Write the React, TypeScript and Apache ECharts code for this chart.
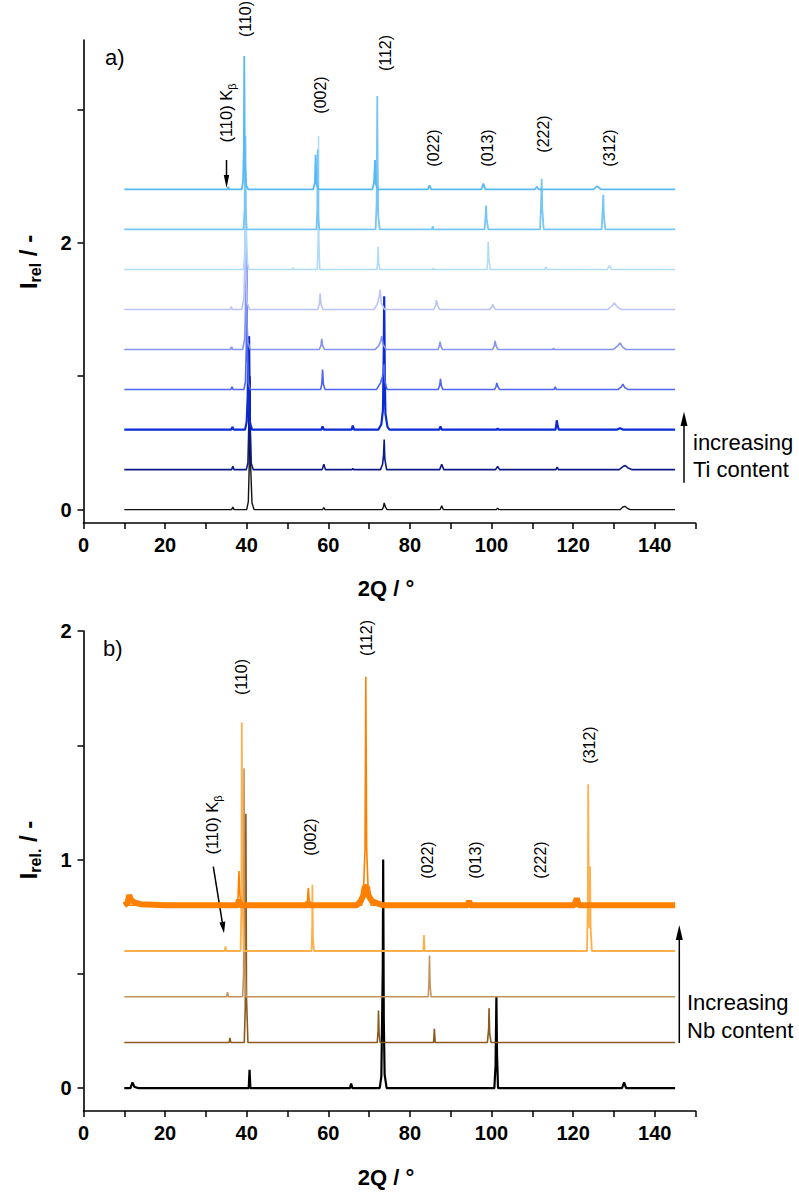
import React, { useEffect, useRef } from "react";
import * as echarts from "echarts";

// ---------- Panel a) : offsets and colours ----------
const offsetsA = [0, 0.3, 0.6, 0.9, 1.2, 1.5, 1.8, 2.1, 2.4];
const colorsA = ["#111111", "#0d1a8a", "#0a2bd6", "#4f66f5", "#8593f2", "#bcc3f7", "#b0dcf9", "#76c6f7", "#58b9f5"];
const widthsA = [1.4, 1.6, 2.2, 1.6, 1.6, 1.6, 1.6, 1.8, 1.8];

// [2theta, I] (before offset)
const a1: number[][] = [[10,0],[36.3,0],[36.6,0.02],[36.9,0],[40.0,0],[40.4,0.06],[40.6,0.3],[40.8,1.0],[41.0,0.3],[41.3,0.05],[41.8,0],[58.6,0],[58.9,0.015],[59.2,0],[73.2,0],[73.5,0.02],[73.7,0.05],[74.0,0.02],[74.4,0],[87.4,0],[87.8,0.03],[88.2,0],[101.2,0],[101.5,0.012],[101.8,0],[131.5,0],[132.2,0.02],[132.7,0.025],[133.3,0.01],[134,0],[145,0]];
const a2: number[][] = [[10,0],[36.3,0],[36.6,0.025],[36.9,0],[39.9,0],[40.3,0.05],[40.5,0.3],[40.65,1.0],[40.85,0.3],[41.1,0.05],[41.6,0],[58.5,0],[58.9,0.04],[59.3,0],[65.8,0],[66.0,0.01],[66.2,0],[72.8,0],[73.3,0.04],[73.55,0.11],[73.7,0.225],[73.85,0.08],[74.3,0],[87.3,0],[87.8,0.04],[88.3,0],[101.0,0],[101.5,0.025],[102.0,0],[115.8,0],[116.1,0.02],[116.4,0],[131.3,0],[132.3,0.025],[132.8,0.03],[133.6,0.01],[134.5,0],[145,0]];
const a3: number[][] = [[10,0],[36.2,0],[36.5,0.02],[36.8,0],[39.6,0],[40.0,0.06],[40.25,0.25],[40.4,0.7],[40.55,0.25],[40.8,0.05],[41.3,0],[58.3,0],[58.6,0.025],[58.9,0],[65.7,0],[66.0,0.03],[66.3,0],[72.3,0],[73.0,0.04],[73.4,0.15],[73.6,0.6],[73.7,1.0],[73.85,0.4],[74.0,0.12],[74.5,0.02],[75,0],[87.2,0],[87.5,0.025],[87.8,0],[101.3,0],[101.5,0.01],[101.7,0],[115.7,0],[115.9,0.04],[116.0,0.07],[116.2,0.03],[116.5,0],[130.8,0],[131.5,0.01],[132.2,0],[145,0]];
const a4: number[][] = [[10,0],[36.1,0],[36.4,0.02],[36.7,0],[39.3,0],[39.7,0.06],[39.9,0.3],[40.0,1.0],[40.15,0.3],[40.4,0.05],[40.9,0],[58.1,0],[58.4,0.04],[58.6,0.15],[58.8,0.04],[59.2,0],[71.8,0],[72.8,0.05],[73.3,0.1],[73.7,0.19],[73.9,0.06],[74.4,0],[86.9,0],[87.3,0.03],[87.5,0.08],[87.7,0.03],[88.1,0],[100.7,0],[101.1,0.02],[101.3,0.05],[101.6,0.02],[102.0,0],[115.3,0],[115.6,0.02],[115.9,0],[131.0,0],[131.8,0.02],[132.2,0.04],[132.7,0.015],[133.5,0],[145,0]];
const a5: number[][] = [[10,0],[36.0,0],[36.3,0.02],[36.6,0],[39.0,0],[39.5,0.08],[39.7,0.3],[39.8,1.0],[39.95,0.3],[40.3,0.05],[40.9,0],[57.8,0],[58.2,0.03],[58.4,0.08],[58.6,0.03],[59.1,0],[71.5,0],[72.4,0.03],[72.9,0.07],[73.1,0.1],[73.4,0.04],[74.2,0],[86.9,0],[87.2,0.025],[87.4,0.06],[87.6,0.025],[88.0,0],[100.3,0],[100.7,0.03],[100.9,0.065],[101.1,0.03],[101.6,0],[115.0,0],[115.2,0.01],[115.4,0],[129.8,0],[131.0,0.03],[131.5,0.05],[132.1,0.02],[133.0,0],[145,0]];
const a6: number[][] = [[10,0],[35.9,0],[36.2,0.02],[36.5,0],[38.8,0],[39.3,0.08],[39.5,0.3],[39.6,1.0],[39.75,0.3],[40.1,0.05],[40.7,0],[57.4,0],[57.8,0.04],[58.0,0.12],[58.2,0.04],[58.7,0],[71.2,0],[72.0,0.04],[72.5,0.1],[72.7,0.15],[73.0,0.05],[73.8,0],[85.8,0],[86.3,0.03],[86.5,0.07],[86.8,0.03],[87.3,0],[99.6,0],[100.1,0.02],[100.3,0.04],[100.6,0.015],[101.0,0],[128.5,0],[129.6,0.03],[130.1,0.05],[130.8,0.02],[131.8,0],[145,0]];
const a7: number[][] = [[10,0],[39.2,0],[39.5,0.1],[39.65,0.4],[39.75,1.0],[39.9,0.3],[40.2,0.05],[40.6,0],[51.2,0],[51.4,0.015],[51.6,0],[57.3,0],[57.5,0.2],[57.6,1.0],[57.7,0.2],[57.9,0],[71.9,0],[72.1,0.05],[72.2,0.17],[72.35,0.05],[72.6,0],[85.5,0],[85.7,0.01],[85.9,0],[98.9,0],[99.1,0.08],[99.2,0.21],[99.35,0.08],[99.7,0],[113.0,0],[113.3,0.02],[113.6,0],[128.4,0],[128.9,0.03],[129.4,0],[145,0]];
const a8: number[][] = [[10,0],[39.2,0],[39.5,0.15],[39.6,0.7],[39.75,0.15],[40.0,0],[57.1,0],[57.3,0.15],[57.4,0.6],[57.5,0.1],[57.8,0],[71.6,0],[71.85,0.2],[72.0,1.0],[72.1,0.5],[72.25,0.1],[72.6,0],[85.4,0],[85.6,0.025],[85.8,0],[98.3,0],[98.55,0.1],[98.65,0.18],[98.8,0.08],[99.2,0],[111.9,0],[112.15,0.2],[112.3,0.38],[112.45,0.15],[112.8,0],[127.0,0],[127.25,0.15],[127.4,0.26],[127.55,0.1],[127.9,0],[145,0]];
const a9: number[][] = [[10,0],[35.3,0],[35.5,0.02],[35.7,0],[38.8,0],[39.1,0.06],[39.3,0.3],[39.4,1.0],[39.55,0.2],[39.9,0.03],[40.4,0],[56.3,0],[56.7,0.05],[56.9,0.26],[57.1,0.04],[57.6,0],[70.8,0],[71.2,0.05],[71.45,0.22],[71.65,0.04],[72.2,0],[84.4,0],[84.8,0.03],[85.2,0],[97.5,0],[98.0,0.045],[98.5,0],[110.6,0],[111.1,0.02],[111.6,0],[125.0,0],[125.9,0.025],[126.8,0],[145,0]];
const tracesA = [a1, a2, a3, a4, a5, a6, a7, a8, a9];

// ---------- Panel b) ----------
const offsetsB = [0, 0.2, 0.4, 0.6, 0.8, 0.8];
const colorsB = ["#000000", "#8b5a1e", "#c4925a", "#ffb04a", "#ff8000", "#ff8000"];
const widthsB = [2.2, 1.6, 1.6, 1.8, 6, 1.6];

const b1: number[][] = [[10,0],[11.5,0],[12.0,0.025],[12.5,0.005],[13.5,0],[40.5,0],[40.7,0.08],[40.9,0],[65.3,0],[65.6,0.02],[65.9,0],[72.6,0],[73.0,0.05],[73.35,0.52],[73.45,1.0],[73.6,0.3],[73.8,0.06],[74.3,0],[100.7,0],[101.0,0.1],[101.2,0.4],[101.35,0.15],[101.6,0],[132.0,0],[132.5,0.025],[133.0,0],[145,0]];
const b2: number[][] = [[10,0],[35.7,0],[35.9,0.02],[36.1,0],[39.4,0],[39.65,0.15],[39.8,1.0],[39.95,0.2],[40.3,0],[72.0,0],[72.2,0.05],[72.3,0.14],[72.45,0.04],[72.7,0],[85.8,0],[86.0,0.06],[86.2,0],[99.0,0],[99.3,0.06],[99.4,0.15],[99.55,0.04],[99.9,0],[145,0]];
const b3: number[][] = [[10,0],[35.1,0],[35.3,0.02],[35.5,0],[39.0,0],[39.25,0.1],[39.35,1.0],[39.5,0.2],[39.8,0],[84.5,0],[84.7,0.08],[84.8,0.18],[84.95,0.05],[85.2,0],[145,0]];
const b4: number[][] = [[10,0],[34.6,0],[34.8,0.02],[35.0,0],[38.5,0],[38.7,0.2],[38.8,1.0],[38.95,0.25],[39.3,0],[55.9,0],[56.05,0.1],[56.1,0.29],[56.25,0.05],[56.5,0],[83.3,0],[83.45,0.07],[83.6,0],[123.4,0],[123.6,0.2],[123.7,0.73],[123.85,0.2],[124.0,0.1],[124.15,0.37],[124.3,0.1],[124.6,0],[145,0]];
// orange: noisy background band (thick) and its sharp peaks (thin)
const b5band: number[][] = [[10,0],[10.8,0.01],[11.2,0.045],[11.6,0.025],[12.5,0.012],[14,0.005],[20,0],[37.8,0],[38.1,0.025],[38.4,0],[54.9,0],[55.1,0.015],[55.3,0],[67.0,0],[68.0,0.02],[68.6,0.045],[68.9,0.08],[69.5,0.08],[69.8,0.045],[70.6,0.02],[72,0.008],[73.5,0],[94.2,0],[94.5,0.02],[94.8,0],[120.3,0],[120.9,0.03],[121.4,0],[145,0]];
const b5peaks: number[][] = [[10,0],[37.6,0],[37.9,0.04],[38.1,0.15],[38.3,0.05],[38.6,0],[54.8,0],[55.1,0.075],[55.4,0],[68.2,0],[68.6,0.05],[69.0,0.25],[69.2,1.0],[69.4,0.25],[69.8,0.05],[70.5,0],[145,0]];
const tracesB = [b1, b2, b3, b4, b5band, b5peaks];

// ---------- Axis ticks ----------
const yTicksA = [0, 1, 2, 3];
const yLabelsA = [0, 2];
const yTicksB = [0, 0.5, 1, 1.5, 2];
const yLabelsB = [0, 1, 2];

// ---------- Annotation texts ----------
const peakLabelsA = [
  { t: "(110)", x: 245, y: 19 },
  { t: "(002)", x: 320, y: 95 },
  { t: "(112)", x: 385, y: 53 },
  { t: "(022)", x: 433, y: 148 },
  { t: "(013)", x: 487, y: 148 },
  { t: "(222)", x: 543, y: 134 },
  { t: "(312)", x: 609, y: 148 },
];
const peakLabelsB = [
  { t: "(110)", x: 241, y: 677 },
  { t: "(112)", x: 366, y: 638 },
  { t: "(002)", x: 310, y: 837 },
  { t: "(022)", x: 427, y: 860 },
  { t: "(013)", x: 475, y: 860 },
  { t: "(222)", x: 540, y: 860 },
  { t: "(312)", x: 589, y: 745 },
];

const SANS = "'Liberation Sans', Arial, Helvetica, sans-serif";
const BOLD = "'Liberation Sans', Arial, Helvetica, sans-serif";

export default function App() {
  const ref = useRef<HTMLDivElement>(null);
  useEffect(() => {
    if (!ref.current) return;
    const chart = echarts.init(ref.current, undefined, { renderer: "svg" });

    const xAxisCommon = (gi: number) => ({
      type: "value",
      gridIndex: gi,
      min: 0,
      max: 150,
      interval: 10,
      axisLine: { show: true, onZero: false, lineStyle: { color: "#000", width: 1.6 } },
      axisTick: { show: true, length: 6, lineStyle: { color: "#000", width: 1.5 } },
      axisLabel: {
        color: "#000",
        fontSize: 20,
        fontWeight: "bold",
        fontFamily: BOLD,
        margin: 12,
        formatter: (v: number) => (v % 20 === 0 && v <= 140 ? String(v) : ""),
      },
      splitLine: { show: false },
    });
    const yAxisCommon = (gi: number, min: number, max: number, ticks: number[], labels: number[]) => ({
      type: "value",
      gridIndex: gi,
      min,
      max,
      axisLine: { show: true, onZero: false, lineStyle: { color: "#000", width: 1.6 } },
      axisTick: { show: true, length: 6, customValues: ticks, lineStyle: { color: "#000", width: 1.5 } },
      axisLabel: { color: "#000", fontSize: 20, fontWeight: "bold", fontFamily: BOLD, margin: 12, customValues: labels },
      splitLine: { show: false },
    });

    const series: any[] = [];
    tracesA.forEach((tr, i) => {
      series.push({
        type: "line",
        xAxisIndex: 0,
        yAxisIndex: 0,
        showSymbol: false,
        silent: true,
        lineStyle: { color: colorsA[i], width: widthsA[i] },
        data: tr.map(([x, y]) => [x, y + offsetsA[i]]),
      });
    });
    tracesB.forEach((tr, i) => {
      series.push({
        type: "line",
        xAxisIndex: 1,
        yAxisIndex: 1,
        showSymbol: false,
        silent: true,
        lineStyle: { color: colorsB[i], width: widthsB[i] },
        data: tr.map(([x, y]) => [x, y + offsetsB[i]]),
      });
    });

    const rotText = (t: string, x: number, y: number) => ({
      type: "text",
      x,
      y,
      rotation: Math.PI / 2,
      style: { text: t, fontSize: 16, fontFamily: SANS, fill: "#000", align: "center", verticalAlign: "middle" },
    });
    const kbText = (x: number, y: number) => ({
      type: "text",
      x,
      y,
      rotation: Math.PI / 2,
      style: {
        text: "{a|(110) K}{s|β}",
        align: "center",
        verticalAlign: "middle",
        rich: {
          a: { fontSize: 16.5, fontFamily: SANS, fill: "#000", lineHeight: 22, verticalAlign: "middle" },
          s: { fontSize: 11, fontFamily: SANS, fill: "#000", lineHeight: 22, verticalAlign: "bottom" },
        },
      },
    });
    const plain = (t: string, x: number, y: number, size: number, align = "left") => ({
      type: "text",
      x,
      y,
      style: { text: t, fontSize: size, fontFamily: SANS, fill: "#000", align, verticalAlign: "middle" },
    });
    const boldTitle = (t: string, x: number, y: number) => ({
      type: "text",
      x,
      y,
      style: { text: t, fontSize: 22, fontWeight: "bold", fontFamily: BOLD, fill: "#000", align: "center", verticalAlign: "middle" },
    });
    const yTitle = (sub: string, x: number, y: number) => ({
      type: "text",
      x,
      y,
      rotation: Math.PI / 2,
      style: {
        text: "{a|I}{s|" + sub + "}{a| / -}",
        align: "center",
        verticalAlign: "middle",
        rich: {
          a: { fontSize: 24, fontWeight: "bold", fontFamily: BOLD, fill: "#000", lineHeight: 30, verticalAlign: "middle" },
          s: { fontSize: 16, fontWeight: "bold", fontFamily: BOLD, fill: "#000", lineHeight: 26, verticalAlign: "bottom" },
        },
      },
    });
    const line = (x1: number, y1: number, x2: number, y2: number) => ({
      type: "line",
      shape: { x1, y1, x2, y2 },
      style: { stroke: "#000", lineWidth: 1.5 },
    });
    const tri = (pts: number[][]) => ({ type: "polygon", shape: { points: pts }, style: { fill: "#000" } });

    const graphics: any[] = [
      plain("a)", 105, 57, 22),
      plain("b)", 103, 648, 22),
      ...peakLabelsA.map((p) => rotText(p.t, p.x, p.y)),
      ...peakLabelsB.map((p) => rotText(p.t, p.x, p.y)),
      kbText(226, 113),
      kbText(212, 825),
      // Kβ arrows
      line(226.5, 160, 226.5, 178),
      tri([[223.8, 175], [229.2, 175], [226.5, 188]]),
      line(213.3, 866.7, 222.3, 922.4),
      tri([[224, 933.3], [225.3, 921.6], [219.4, 922.6]]),
      // increasing arrows
      line(684, 482.7, 684, 424),
      tri([[680.5, 426], [687.5, 426], [684, 411.7]]),
      line(679.3, 1043, 679.3, 938),
      tri([[675.8, 940], [682.8, 940], [679.3, 925]]),
      plain("increasing", 693, 442, 22),
      plain("Ti content", 693, 469, 22),
      plain("Increasing", 687, 1002, 22),
      plain("Nb content", 687, 1030, 22),
      boldTitle("2Q / °", 386, 588),
      boldTitle("2Q / °", 386, 1177),
      yTitle("rel", 28, 262),
      yTitle("rel.", 28, 850),
    ];

    chart.setOption({
      animation: false,
      grid: [
        { left: 83.5, top: 40, width: 612, height: 483 },
        { left: 83.5, top: 631, width: 612, height: 480 },
      ],
      xAxis: [xAxisCommon(0), xAxisCommon(1)],
      yAxis: [yAxisCommon(0, -0.1, 3.52, yTicksA, yLabelsA), yAxisCommon(1, -0.1, 2.0, yTicksB, yLabelsB)],
      series,
      graphic: graphics,
    });
    return () => chart.dispose();
  }, []);
  return <div ref={ref} style={{ position: "absolute", left: 0, top: 0, width: 799, height: 1192, background: "#fff" }} />;
}
